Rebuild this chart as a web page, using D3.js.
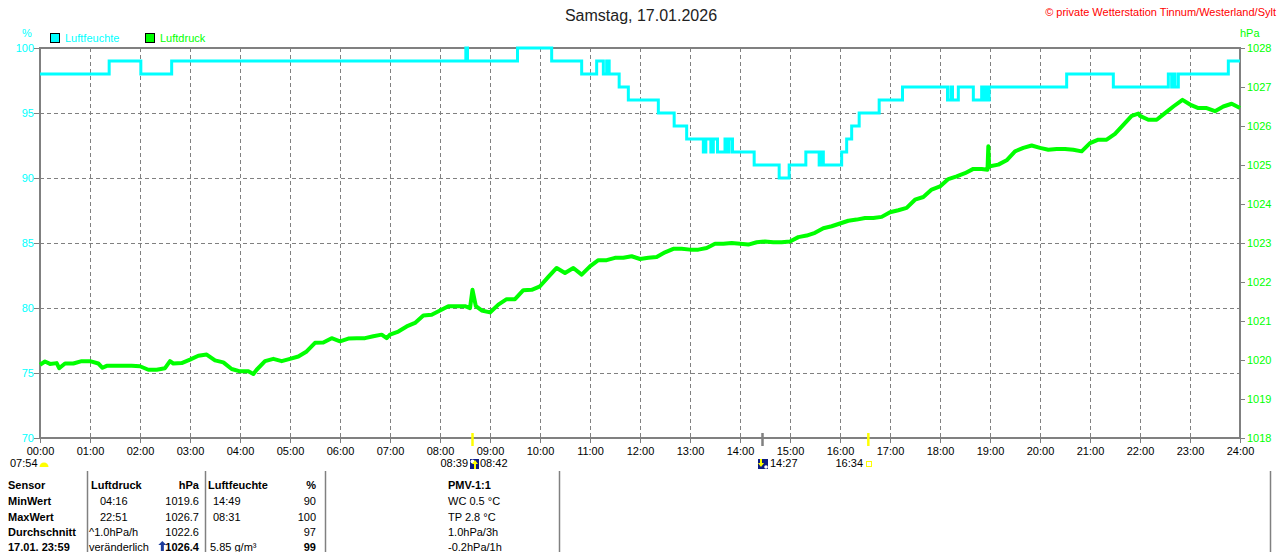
<!DOCTYPE html>
<html>
<head>
<meta charset="utf-8">
<script src="https://cdn.jsdelivr.net/npm/d3@7"></script>
<style>
  html, body { margin: 0; padding: 0; background: #fff; }
  svg { display: block; font-family: "Liberation Sans", Arial, sans-serif; }
</style>
</head>
<body>
<div id="chart"></div>
<script>
const title = "Samstag, 17.01.2026";
const copyright = "© private Wetterstation Tinnum/Westerland/Sylt";

const hourLabels = ["00:00","01:00","02:00","03:00","04:00","05:00","06:00","07:00","08:00","09:00",
  "10:00","11:00","12:00","13:00","14:00","15:00","16:00","17:00","18:00","19:00","20:00",
  "21:00","22:00","23:00","24:00"];
const pctTicks = [70, 75, 80, 85, 90, 95, 100];
const hpaTicks = [1018, 1019, 1020, 1021, 1022, 1023, 1024, 1025, 1026, 1027, 1028];

// Luftfeuchte (%), step series: time of change -> new value
const humTimes = ["00:00","01:23","02:01","02:38","08:31","08:33","09:33","10:14","10:50","11:08",
  "11:16","11:20","11:23","11:35","11:46","12:22","12:41","12:56","13:16","13:19",
  "13:25","13:28","13:33","13:42","13:44","13:47","13:51","14:17","14:47","14:59",
  "15:19","15:35","15:38","15:40","16:02","16:08","16:14","16:23","16:47","17:15",
  "18:09","18:13","18:15","18:22","18:40","18:50","18:53","18:56","18:58","18:59",
  "20:32","21:28","22:34","22:38","22:40","22:42","22:46","23:46","24:00"];
const humValues = [98, 99, 98, 99, 100, 99, 100, 99, 98, 99,
  98, 99, 98, 97, 96, 95, 94, 93, 92, 93,
  92, 93, 92, 93, 92, 93, 92, 91, 90, 91,
  92, 91, 92, 91, 92, 93, 94, 95, 96, 97,
  96, 97, 96, 97, 96, 97, 96, 97, 96, 97,
  98, 97, 98, 97, 98, 97, 98, 99, 99];

// Luftdruck (hPa)
const pressTimes = ["00:00","00:06","00:12","00:20","00:23","00:30","00:40","00:50","01:00","01:10",
  "01:15","01:20","01:30","01:40","01:50","02:00","02:10","02:20","02:30","02:36",
  "02:40","02:50","03:00","03:10","03:20","03:30","03:40","03:50","04:00","04:10",
  "04:16","04:20","04:30","04:40","04:50","05:00","05:10","05:20","05:30","05:40",
  "05:50","06:00","06:10","06:20","06:30","06:40","06:50","06:56","07:00","07:10",
  "07:20","07:30","07:40","07:50","08:00","08:10","08:20","08:30","08:36","08:39",
  "08:43","08:50","09:00","09:10","09:20","09:30","09:40","09:50","10:00","10:10",
  "10:20","10:30","10:40","10:50","11:00","11:10","11:20","11:30","11:40","11:50",
  "12:00","12:10","12:20","12:30","12:40","12:50","13:00","13:10","13:20","13:30",
  "13:40","13:50","14:00","14:10","14:20","14:30","14:40","14:50","15:00","15:10",
  "15:20","15:30","15:40","15:50","16:00","16:10","16:20","16:30","16:40","16:50",
  "17:00","17:10","17:20","17:30","17:40","17:50","18:00","18:10","18:20","18:30",
  "18:40","18:50","18:57","18:58","18:59","19:00","19:10","19:20","19:30","19:40",
  "19:50","20:00","20:10","20:20","20:30","20:40","20:50","21:00","21:10","21:20",
  "21:30","21:40","21:50","21:58","22:00","22:10","22:20","22:30","22:40","22:51",
  "23:00","23:10","23:20","23:30","23:40","23:50","24:00"];
const pressValues = [1019.88,1019.96,1019.90,1019.92,1019.79,1019.91,1019.91,1019.97,1019.97,1019.91,
  1019.80,1019.85,1019.85,1019.85,1019.85,1019.84,1019.75,1019.75,1019.79,1019.97,
  1019.91,1019.92,1020.01,1020.11,1020.14,1019.99,1019.94,1019.77,1019.71,1019.71,
  1019.64,1019.75,1019.97,1020.03,1019.97,1020.03,1020.09,1020.22,1020.44,1020.45,
  1020.56,1020.48,1020.55,1020.56,1020.56,1020.61,1020.65,1020.56,1020.65,1020.73,
  1020.86,1020.95,1021.14,1021.16,1021.27,1021.38,1021.38,1021.38,1021.33,1021.80,
  1021.38,1021.27,1021.22,1021.42,1021.56,1021.56,1021.79,1021.80,1021.89,1022.13,
  1022.36,1022.23,1022.36,1022.19,1022.40,1022.56,1022.56,1022.62,1022.62,1022.66,
  1022.59,1022.62,1022.64,1022.76,1022.85,1022.85,1022.83,1022.83,1022.87,1022.98,
  1022.98,1023.00,1022.98,1022.96,1023.02,1023.04,1023.02,1023.02,1023.04,1023.15,
  1023.19,1023.26,1023.38,1023.43,1023.50,1023.57,1023.60,1023.64,1023.64,1023.67,
  1023.79,1023.84,1023.90,1024.11,1024.18,1024.37,1024.45,1024.64,1024.71,1024.79,
  1024.90,1024.90,1024.88,1025.48,1024.95,1024.97,1025.01,1025.12,1025.35,1025.44,
  1025.50,1025.44,1025.39,1025.41,1025.41,1025.39,1025.35,1025.56,1025.65,1025.65,
  1025.80,1026.03,1026.26,1026.32,1026.26,1026.16,1026.16,1026.33,1026.50,1026.67,
  1026.55,1026.46,1026.46,1026.38,1026.50,1026.57,1026.46];

// Sonnen-/Mondereignisse unter der Zeitachse
const markerTimes = ["08:39", "14:27", "16:34"];
const markerColors = ["#ffff00", "#808080", "#ffff00"];

// Tabelle
const tableHeader = ["Sensor", "Luftdruck", "hPa", "Luftfeuchte", "%", "PMV-1:1"];
const rowNames = ["MinWert", "MaxWert", "Durchschnitt", "17.01. 23:59"];
const pressTimeCol = ["04:16", "22:51", "^1.0hPa/h", "veränderlich"];
const pressValCol = ["1019.6", "1026.7", "1022.6", "1026.4"];
const humTimeCol = ["14:49", "08:31", "", "5.85 g/m³"];
const humValCol = ["90", "100", "97", "99"];
const pmvCol = ["WC 0.5 °C", "TP 2.8 °C", "1.0hPa/3h", "-0.2hPa/1h"];

const width = 1280, height = 552;
const plotL = 40, plotR = 1240, plotT = 48, plotB = 438;
const cyan = "#00ffff", green = "#00ff00", grey = "#808080";

const toMin = s => { const [h, m] = s.split(":"); return +h * 60 + +m; };

const x = d3.scaleLinear().domain([0, 1440]).range([plotL, plotR]);
const yH = d3.scaleLinear().domain([70, 100]).range([plotB, plotT]);
const yP = d3.scaleLinear().domain([1018, 1028]).range([plotB, plotT]);

const svg = d3.select("#chart").append("svg")
  .attr("width", width)
  .attr("height", height);

// grid
const grid = svg.append("g")
  .attr("stroke", grey)
  .attr("stroke-width", 1)
  .attr("stroke-dasharray", "4,3")
  .attr("shape-rendering", "crispEdges");
grid.selectAll("line.v")
  .data(hourLabels.slice(1, -1))
  .join("line")
  .attr("class", "v")
  .attr("x1", d => Math.round(x(toMin(d))) + 0.5)
  .attr("x2", d => Math.round(x(toMin(d))) + 0.5)
  .attr("y1", plotT)
  .attr("y2", plotB);
grid.selectAll("line.h")
  .data(pctTicks.slice(1, -1))
  .join("line")
  .attr("class", "h")
  .attr("x1", plotL)
  .attr("x2", plotR)
  .attr("y1", d => Math.round(yH(d)) + 0.5)
  .attr("y2", d => Math.round(yH(d)) + 0.5);

// axes
const xAxis = svg.append("g")
  .attr("transform", `translate(0,${plotB})`)
  .call(d3.axisBottom(x)
    .tickValues(hourLabels.map(toMin))
    .tickFormat((d, i) => hourLabels[i])
    .tickSize(5)
    .tickPadding(4));

const yAxisL = svg.append("g")
  .attr("transform", `translate(${plotL},0)`)
  .call(d3.axisLeft(yH).tickValues(pctTicks).tickFormat(d3.format("d")).tickSize(6).tickPadding(0));

const yAxisR = svg.append("g")
  .attr("transform", `translate(${plotR},0)`)
  .call(d3.axisRight(yP).tickValues(hpaTicks).tickFormat(d3.format("d")).tickSize(5).tickPadding(2));

[xAxis, yAxisL, yAxisR].forEach(a => {
  a.select(".domain").remove();
  a.attr("font-family", null).attr("font-size", 11);
  a.selectAll(".tick line").attr("stroke", grey).attr("stroke-width", 1);
});
xAxis.selectAll(".tick text").attr("fill", "#000");
yAxisL.selectAll(".tick text").attr("fill", cyan).attr("dy", "0.35em");
yAxisR.selectAll(".tick text").attr("fill", green).attr("dy", "0.35em");

// frame
svg.append("rect")
  .attr("x", plotL)
  .attr("y", plotT)
  .attr("width", plotR - plotL)
  .attr("height", plotB - plotT)
  .attr("fill", "none")
  .attr("stroke", grey)
  .attr("stroke-width", 2);

// markers on the time axis
svg.selectAll("line.marker")
  .data(markerTimes)
  .join("line")
  .attr("class", "marker")
  .attr("x1", d => x(toMin(d)))
  .attr("x2", d => x(toMin(d)))
  .attr("y1", plotB - 5)
  .attr("y2", plotB + 8)
  .attr("stroke", (d, i) => markerColors[i])
  .attr("stroke-width", 2.5);

// lines
const humData = humTimes.map((t, i) => ({ t: toMin(t), v: humValues[i] }));
const pressData = pressTimes.map((t, i) => ({ t: toMin(t), v: pressValues[i] }));

svg.append("path")
  .datum(humData)
  .attr("fill", "none")
  .attr("stroke", cyan)
  .attr("stroke-width", 3)
  .attr("d", d3.line().curve(d3.curveStepAfter).x(d => x(d.t)).y(d => yH(d.v)));

svg.append("path")
  .datum(pressData)
  .attr("fill", "none")
  .attr("stroke", green)
  .attr("stroke-width", 4)
  .attr("stroke-linejoin", "round")
  .attr("d", d3.line().x(d => x(d.t)).y(d => yP(d.v)));

// title, copyright, units
svg.append("text")
  .attr("x", 641).attr("y", 21)
  .attr("text-anchor", "middle")
  .attr("font-size", 16)
  .attr("fill", "#222")
  .text(title);

svg.append("text")
  .attr("x", 1276).attr("y", 16)
  .attr("text-anchor", "end")
  .attr("font-size", 11)
  .attr("fill", "#ff0000")
  .text(copyright);

svg.append("text")
  .attr("x", 27).attr("y", 37)
  .attr("text-anchor", "middle")
  .attr("font-size", 11)
  .attr("fill", cyan)
  .text("%");

svg.append("text")
  .attr("x", 1240).attr("y", 37)
  .attr("font-size", 11)
  .attr("fill", green)
  .text("hPa");

// legend
const legend = [{ name: "Luftfeuchte", color: cyan, x: 50 }, { name: "Luftdruck", color: green, x: 145 }];
const lg = svg.selectAll("g.legend")
  .data(legend)
  .join("g")
  .attr("class", "legend")
  .attr("transform", d => `translate(${d.x},33)`);
lg.append("rect")
  .attr("x", 0.5).attr("y", 0.5)
  .attr("width", 9).attr("height", 9)
  .attr("fill", d => d.color)
  .attr("stroke", "#000");
lg.append("text")
  .attr("x", 15).attr("y", 9)
  .attr("font-size", 11)
  .attr("fill", d => d.color)
  .text(d => d.name);

// sun / moon labels under the axis
const ev = svg.append("g").attr("font-size", 11).attr("fill", "#000");
ev.append("text").attr("x", 10).attr("y", 467).text("07:54");
ev.append("path")
  .attr("d", d3.arc()({ innerRadius: 0, outerRadius: 4.5, startAngle: -Math.PI / 2, endAngle: Math.PI / 2 }))
  .attr("transform", "translate(44,467)")
  .attr("fill", "#ffff00");

ev.append("text").attr("x", 468).attr("y", 467).attr("text-anchor", "end").text("08:39");
ev.append("rect").attr("x", 470).attr("y", 459).attr("width", 9).attr("height", 10).attr("fill", "#0c1c84");
ev.append("circle").attr("cx", 472.5).attr("cy", 461.5).attr("r", 2).attr("fill", "#fff");
ev.append("path").attr("d", "M475,460 L478,464 L476,464 L476,469 L474,469 L474,464 L472,464 Z").attr("fill", "#ffff00");
ev.append("text").attr("x", 480).attr("y", 467).text("08:42");

ev.append("rect").attr("x", 758).attr("y", 459).attr("width", 10).attr("height", 10).attr("fill", "#0c1c84");
ev.append("path").attr("d", "M760,459 L762,459 L762,463 L764,463 L761,467 L758,463 L760,463 Z").attr("fill", "#ffff00");
ev.append("circle").attr("cx", 766).attr("cy", 467).attr("r", 1.8).attr("fill", "#fff");
ev.append("text").attr("x", 770).attr("y", 467).text("14:27");

ev.append("text").attr("x", 863).attr("y", 467).attr("text-anchor", "end").text("16:34");
ev.append("rect").attr("x", 866.5).attr("y", 461.5).attr("width", 5).attr("height", 5)
  .attr("fill", "none").attr("stroke", "#ffff00");

// table
const tb = svg.append("g").attr("font-size", 11).attr("fill", "#000");
const rowY = [489, 505, 521, 536, 551];
[87, 205, 325, 559, 1270].forEach(sx => {
  tb.append("line")
    .attr("x1", sx + 0.5).attr("x2", sx + 0.5)
    .attr("y1", 471).attr("y2", height)
    .attr("stroke", grey).attr("stroke-width", 1.5);
});

const headerX = [8, 91, 199, 208, 316, 448];
const headerAnchor = ["start", "start", "end", "start", "end", "start"];
tb.selectAll("text.head")
  .data(tableHeader)
  .join("text")
  .attr("class", "head")
  .attr("x", (d, i) => headerX[i])
  .attr("y", rowY[0])
  .attr("text-anchor", (d, i) => headerAnchor[i])
  .attr("font-weight", "bold")
  .text(d => d);

let arrowX = 170;
rowNames.forEach((name, i) => {
  const y = rowY[i + 1];
  const last = i === rowNames.length - 1;
  tb.append("text").attr("x", 8).attr("y", y).attr("font-weight", "bold").text(name);
  const pv = tb.append("text").attr("x", 199).attr("y", y).attr("text-anchor", "end")
    .attr("font-weight", last ? "bold" : null).text(pressValCol[i]);
  if (last) arrowX = 199 - pv.node().getComputedTextLength() - 6;
  tb.append("text").attr("x", i < 2 ? 100 : 89).attr("y", y)
    .attr("clip-path", last ? "url(#clipVar)" : null)
    .text(pressTimeCol[i]);
  tb.append("text").attr("x", i < 2 ? 213 : 210).attr("y", y).text(humTimeCol[i]);
  tb.append("text").attr("x", 316).attr("y", y).attr("text-anchor", "end")
    .attr("font-weight", last ? "bold" : null).text(humValCol[i]);
  tb.append("text").attr("x", 448).attr("y", y).text(pmvCol[i]);
});

svg.append("clipPath").attr("id", "clipVar")
  .append("rect").attr("x", 88).attr("y", 538).attr("width", arrowX - 90).attr("height", 14);
tb.append("path")
  .attr("d", `M${arrowX + 3},541 l4,4 h-2.5 v6 h-3 v-6 h-2.5 Z`)
  .attr("fill", "#1c3c9c");
</script>
</body>
</html>
